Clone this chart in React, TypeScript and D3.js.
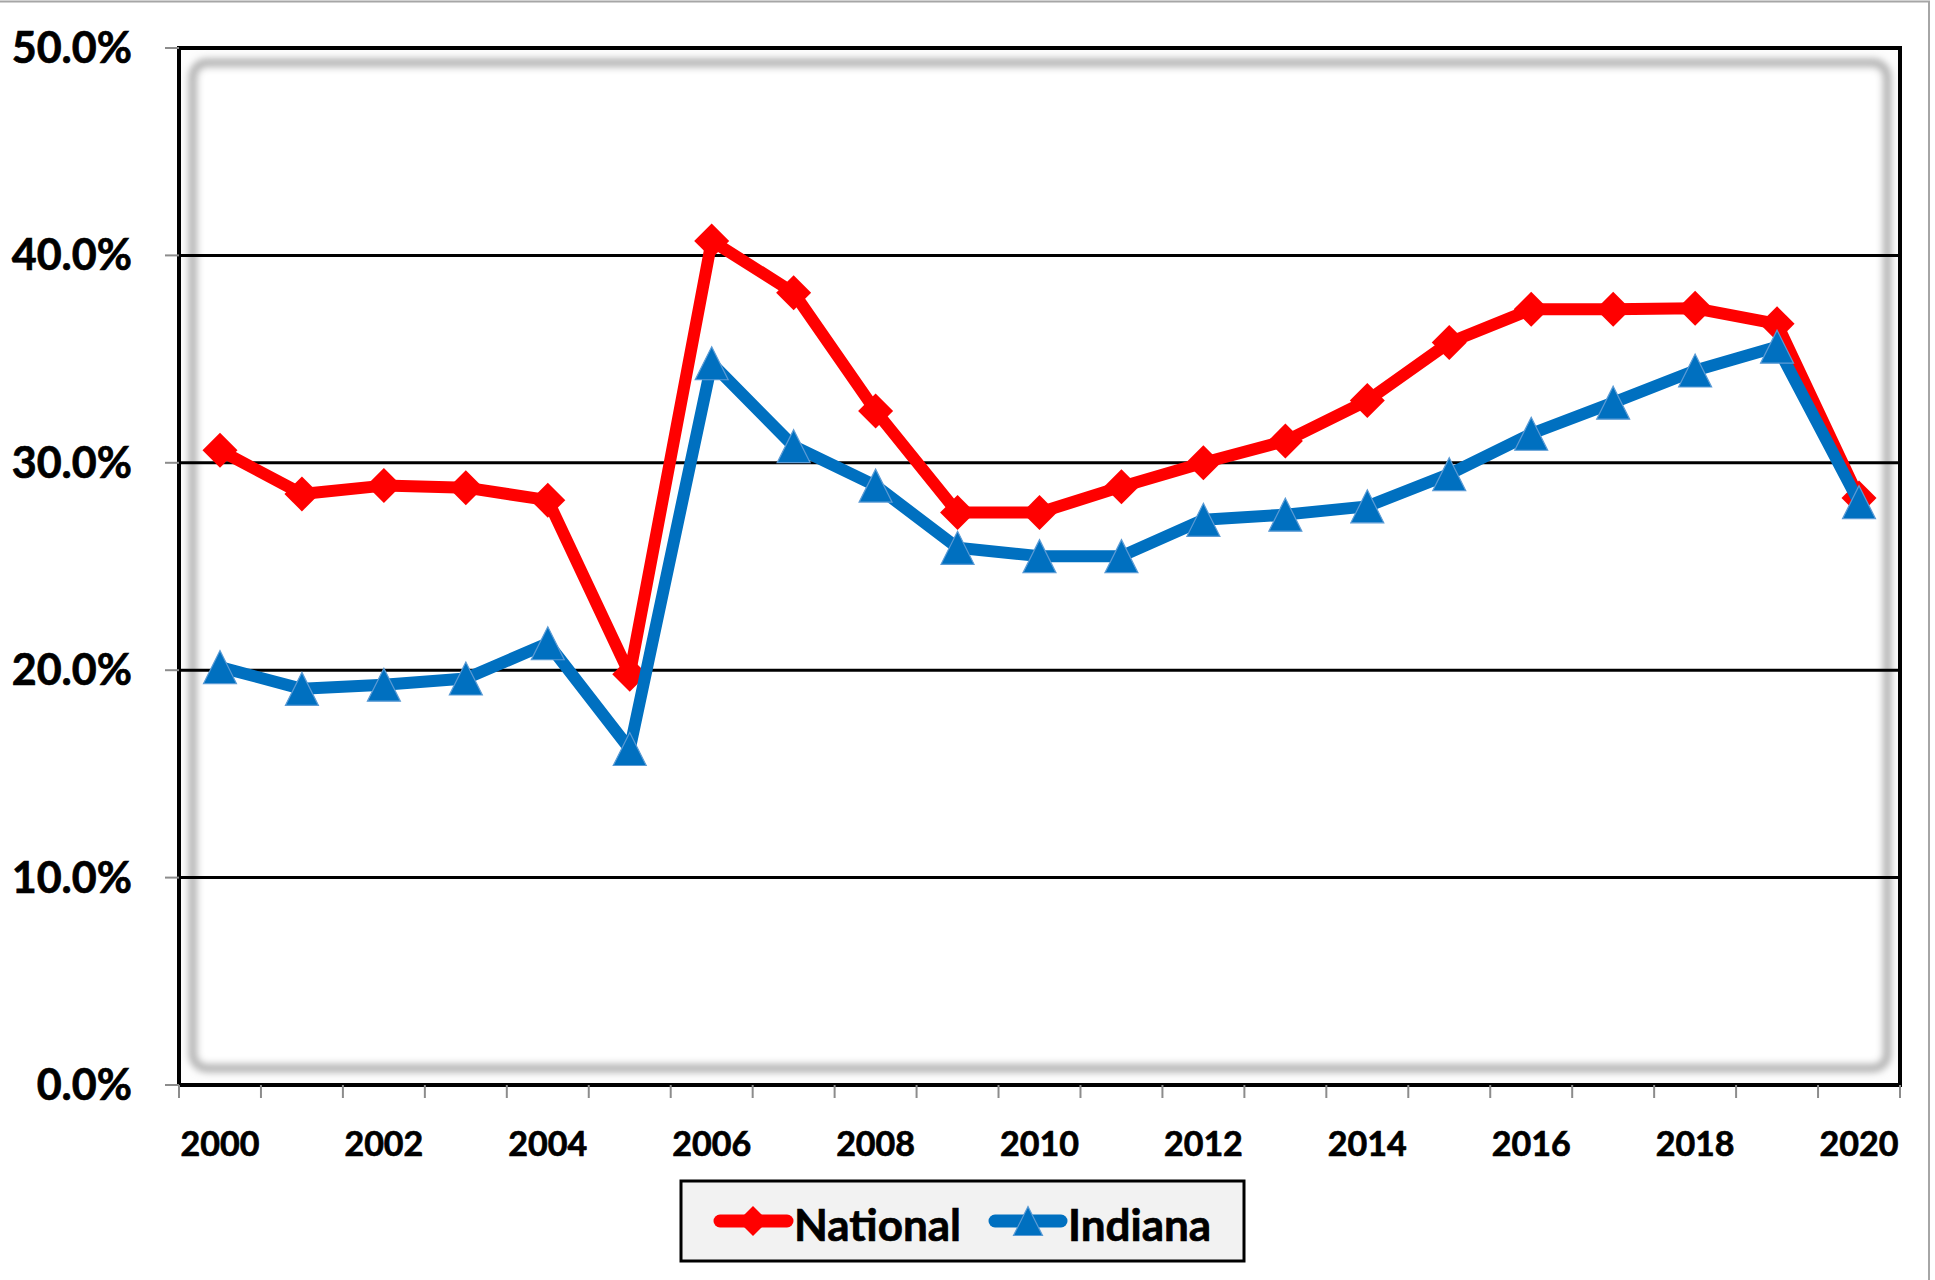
import React from "react";
import * as d3 from "d3";

const years = [2000, 2001, 2002, 2003, 2004, 2005, 2006, 2007, 2008, 2009, 2010, 2011, 2012, 2013, 2014, 2015, 2016, 2017, 2018, 2019, 2020];
const national = [30.6, 28.5, 28.9, 28.8, 28.2, 19.8, 40.7, 38.2, 32.5, 27.6, 27.6, 28.85, 30.0, 31.05, 33.0, 35.8, 37.4, 37.4, 37.45, 36.7, 28.3];
const indiana = [20.15, 19.1, 19.3, 19.6, 21.3, 16.2, 34.8, 30.8, 28.9, 25.9, 25.5, 25.5, 27.25, 27.5, 27.9, 29.45, 31.4, 32.9, 34.45, 35.6, 28.1];
const yTicks = [0, 10, 20, 30, 40, 50];
const xLabels = [2000, 2002, 2004, 2006, 2008, 2010, 2012, 2014, 2016, 2018, 2020];

const RED = "#ff0000";
const BLUE = "#0070c0";
const FONT = "Lato, 'Open Sans', sans-serif";

const diamond = (cx: number, cy: number, r: number) =>
  `M${cx},${cy - r}L${cx + r},${cy}L${cx},${cy + r}L${cx - r},${cy}Z`;
const triangle = (cx: number, cy: number, s: number) =>
  `M${cx},${cy - s / 2}L${cx + s / 2},${cy + s / 2}L${cx - s / 2},${cy + s / 2}Z`;

export default function App() {
  const width = 1935;
  const height = 1280;
  const plot = { left: 179, right: 1900, top: 48, bottom: 1085 };

  const x = d3.scaleBand<number>().domain(years).range([plot.left, plot.right]);
  const y = d3.scaleLinear().domain([0, 50]).range([plot.bottom, plot.top]);
  const cx = (yr: number) => (x(yr) as number) + x.bandwidth() / 2;

  const line = d3
    .line<number>()
    .x((_, i) => cx(years[i]))
    .y((d) => y(d));

  const bounds = years.map((yr) => x(yr) as number).concat([plot.right]);

  // bold-ish text, a touch heavier than Lato Bold to look like the original
  const textStyle = { fontFamily: FONT, fontWeight: 700, fill: "#000", stroke: "#000", strokeWidth: 0.7 };

  return (
    <svg
      width={width}
      height={height}
      style={{ position: "absolute", left: 0, top: 0, display: "block", background: "#fff" }}
    >
      <defs>
        <filter id="soft" x="-5%" y="-5%" width="110%" height="110%">
          <feGaussianBlur stdDeviation="3.5" />
        </filter>
      </defs>

      {/* outer chart frame */}
      <rect x={-3} y={1.5} width={1932} height={1300} fill="#fff" stroke="#a6a6a6" strokeWidth={2} />

      {/* plot area with inner soft shadow */}
      <rect x={plot.left} y={plot.top} width={plot.right - plot.left} height={plot.bottom - plot.top} fill="#fdfdfd" />
      <rect
        x={193}
        y={63}
        width={1887 - 193}
        height={1068 - 63}
        rx={14}
        fill="#fff"
        stroke="#b4b4b4"
        strokeWidth={9}
        filter="url(#soft)"
      />

      {/* gridlines */}
      {yTicks.filter((t) => t > 0 && t < 50).map((t) => (
        <line key={t} x1={plot.left} x2={plot.right} y1={y(t)} y2={y(t)} stroke="#000" strokeWidth={3} />
      ))}

      {/* plot border */}
      <path
        d={`M${plot.left},${plot.bottom}V${plot.top}H${plot.right}V${plot.bottom}`}
        fill="none"
        stroke="#000"
        strokeWidth={4}
      />
      <line x1={plot.left - 1} x2={plot.right + 2} y1={plot.bottom} y2={plot.bottom} stroke="#000" strokeWidth={4} />

      {/* y ticks and labels */}
      {yTicks.map((t) => (
        <g key={t}>
          <line x1={plot.left - 14} x2={plot.left} y1={y(t)} y2={y(t)} stroke="#8c8c8c" strokeWidth={2} />
          <text x={132} y={y(t) + 15} textAnchor="end" fontSize={43} style={textStyle}>
            {d3.format(".1f")(t) + "%"}
          </text>
        </g>
      ))}

      {/* x ticks */}
      {bounds.map((b, i) => (
        <line key={i} x1={b} x2={b} y1={plot.bottom} y2={plot.bottom + 13} stroke="#8c8c8c" strokeWidth={2} />
      ))}
      {xLabels.map((yr) => (
        <text key={yr} x={cx(yr)} y={1156} textAnchor="middle" fontSize={34} style={textStyle}>
          {yr}
        </text>
      ))}

      {/* National */}
      <path d={line(national) || ""} fill="none" stroke={RED} strokeWidth={12} strokeLinejoin="round" strokeLinecap="round" />
      {national.map((v, i) => (
        <path key={i} d={diamond(cx(years[i]), y(v), 17.5)} fill={RED} />
      ))}

      {/* Indiana */}
      <path d={line(indiana) || ""} fill="none" stroke={BLUE} strokeWidth={12} strokeLinejoin="round" strokeLinecap="round" />
      {indiana.map((v, i) => (
        <path key={i} d={triangle(cx(years[i]), y(v), 33)} fill={BLUE} stroke="#5b9bd5" strokeWidth={1.2} />
      ))}

      {/* legend */}
      <g>
        <rect x={681} y={1181} width={563} height={80} fill="#f2f2f2" stroke="#000" strokeWidth={3} />
        <line x1={720} x2={787} y1={1221} y2={1221} stroke={RED} strokeWidth={13} strokeLinecap="round" />
        <path d={diamond(753, 1221, 15)} fill={RED} />
        <text x={794} y={1241} fontSize={44} style={textStyle}>
          National
        </text>
        <line x1={995} x2={1061} y1={1221} y2={1221} stroke={BLUE} strokeWidth={13} strokeLinecap="round" />
        <path d={triangle(1028, 1221, 29)} fill={BLUE} stroke="#5b9bd5" strokeWidth={1.2} />
        <text x={1068} y={1241} fontSize={44} style={textStyle}>
          Indiana
        </text>
      </g>
    </svg>
  );
}
